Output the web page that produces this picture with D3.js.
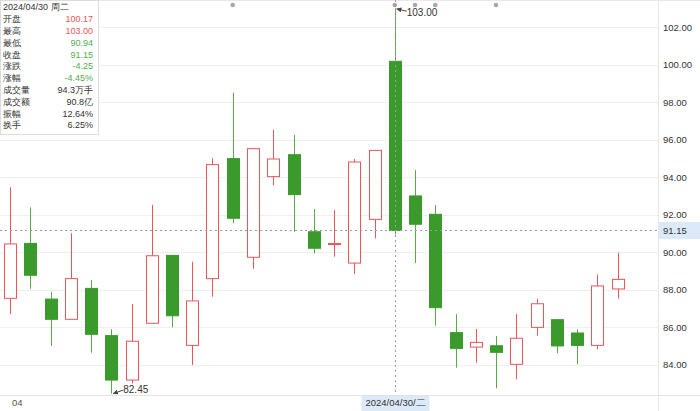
<!DOCTYPE html>
<html><head><meta charset="utf-8">
<script src="https://cdn.jsdelivr.net/npm/d3@7/dist/d3.min.js"></script>
<style>
html,body{margin:0;padding:0;background:#fff;}
svg{display:block;font-family:"Liberation Sans",Arial,sans-serif;}
</style></head>
<body><svg id="c" width="700" height="411"></svg>
<script>
const dates = ["2024/04/01","2024/04/02","2024/04/03","2024/04/08","2024/04/09","2024/04/10","2024/04/11","2024/04/12","2024/04/15","2024/04/16","2024/04/17","2024/04/18","2024/04/19","2024/04/22","2024/04/23","2024/04/24","2024/04/25","2024/04/26","2024/04/29","2024/04/30","2024/05/06","2024/05/07","2024/05/08","2024/05/09","2024/05/10","2024/05/13","2024/05/14","2024/05/15","2024/05/16","2024/05/17","2024/05/20"];
const openV  = [87.53,90.46,87.49,86.41,88.06,85.54,83.17,86.20,89.82,85.02,88.58,94.98,89.72,94.02,95.19,91.08,90.42,89.41,91.74,100.17,92.99,92.01,85.70,84.93,85.00,84.01,85.98,86.39,85.68,85.02,88.03];
const highV  = [93.45,92.38,87.88,91.00,88.51,85.88,87.23,92.51,89.82,89.48,95.00,98.50,95.51,96.51,96.24,92.29,92.24,94.96,95.42,103.00,94.37,92.51,86.69,85.89,85.52,86.69,87.51,86.39,85.88,88.79,89.96];
const lowV   = [86.69,88.04,84.99,86.41,84.63,82.45,83.00,86.20,85.98,83.97,87.62,91.53,89.11,93.56,91.08,89.93,89.75,88.83,90.73,90.94,89.41,86.07,83.83,84.10,82.73,83.21,85.54,84.60,84.01,84.81,87.53];
const closeV = [90.43,88.76,86.41,88.58,85.61,83.17,85.24,89.80,86.60,87.39,94.66,91.80,95.51,94.96,93.06,90.20,90.45,94.80,95.42,91.15,91.48,87.03,84.86,85.18,84.65,85.40,87.24,84.99,85.02,88.19,88.54];
const yTicks = [84,86,88,90,92,94,96,98,100,102];
const markerIdx = [11,19,20,21,24];
const tipLabels = ["开盘","最高","最低","收盘","涨跌","涨幅","成交量","成交额","振幅","换手"];
const tipValues = ["100.17","103.00","90.94","91.15","-4.25","-4.45%","94.3万手","90.8亿","12.64%","6.25%"];
const tipKinds  = ["up","up","down","down","down","down","n","n","n","n"];
const selIdx = 19;

const RED="#e8565b", GREEN="#3a9a2b", GREEN_W="#5aa84a", TXT="#333";
const svg = d3.select("#c");
const W=700,H=411, plotR=658, plotB=395;
const x = d3.scaleLinear().domain([0,30]).range([10,617.5]);
const y = d3.scaleLinear().domain([84,102]).range([364.5,27]);
const data = dates.map((d,i)=>({d,o:openV[i],h:highV[i],l:lowV[i],c:closeV[i]}));
const bw = 12;

// frame lines
svg.append("line").attr("x1",0).attr("x2",W).attr("y1",0.5).attr("y2",0.5).attr("stroke","#e8e8e8");
svg.append("line").attr("x1",0).attr("x2",W).attr("y1",plotB+0.5).attr("y2",plotB+0.5).attr("stroke","#e3e3e3");
svg.append("line").attr("x1",plotR+0.5).attr("x2",plotR+0.5).attr("y1",0).attr("y2",H).attr("stroke","#e6e6e6");

// grid
svg.append("g").selectAll("line").data(yTicks).join("line")
  .attr("x1",0).attr("x2",plotR).attr("y1",d=>Math.round(y(d))+0.5).attr("y2",d=>Math.round(y(d))+0.5)
  .attr("stroke","#efefef");

// y axis
const ax = svg.append("g").attr("transform",`translate(${plotR},0)`)
  .call(d3.axisRight(y).tickValues(yTicks).tickFormat(d3.format(".2f")).tickSize(0).tickPadding(5));
ax.select(".domain").remove();
ax.selectAll("text").attr("fill",TXT).style("font-size","9.5px").style("font-family","Liberation Sans, Arial");

// candles
const g = svg.append("g");
data.forEach((d,i)=>{
  const up = d.c>=d.o;
  const cx = Math.round(x(i))+0.5;
  const col = up?RED:GREEN;
  const top = y(Math.max(d.o,d.c)), bot = y(Math.min(d.o,d.c));
  g.append("line").attr("x1",cx).attr("x2",cx).attr("y1",y(d.h)).attr("y2",y(d.l))
   .attr("stroke",up?RED:GREEN_W).attr("stroke-width",1);
  g.append("rect").attr("x",cx-bw/2).attr("y",top).attr("width",bw).attr("height",Math.max(1,bot-top))
   .attr("fill",up?"#fff":GREEN).attr("stroke",col).attr("stroke-width",1);
});

// top markers
svg.append("g").selectAll("circle").data(markerIdx).join("circle")
  .attr("cx",i=>x(i)).attr("cy",5).attr("r",2.3).attr("fill","#a8a8a8");

// crosshair
const sx = Math.round(x(selIdx))+0.5, sy = Math.round(y(closeV[selIdx]))+0.5;
svg.append("line").attr("x1",sx).attr("x2",sx).attr("y1",0).attr("y2",plotB)
  .attr("stroke","#9a9a9a").attr("stroke-dasharray","2,3");
svg.append("line").attr("x1",0).attr("x2",plotR).attr("y1",sy).attr("y2",sy)
  .attr("stroke","#9a9a9a").attr("stroke-dasharray","2,3");
svg.append("rect").attr("x",plotR+1).attr("y",sy-8.5).attr("width",W-plotR-1).attr("height",17).attr("fill","#dce9f8");
svg.append("text").attr("x",663).attr("y",sy).attr("dy","0.35em").attr("fill",TXT).style("font-size","9.5px").text(closeV[selIdx].toFixed(2));
svg.append("rect").attr("x",sx-34).attr("y",plotB+1).attr("width",68).attr("height",H-plotB-1).attr("fill","#dce9f8");
const dp = dates[selIdx];
svg.append("text").attr("x",sx).attr("y",403).attr("dy","0.35em").attr("text-anchor","middle").attr("fill",TXT)
  .style("font-size","9.5px").text(dp+"/二");
svg.append("text").attr("x",12).attr("y",403).attr("dy","0.35em").attr("fill","#555").style("font-size","9.5px").text("04");

// max/min annotations
const defs = svg.append("defs");
defs.append("marker").attr("id","arr").attr("viewBox","0 0 6 6").attr("refX",5.5).attr("refY",3)
  .attr("markerWidth",5).attr("markerHeight",5).attr("orient","auto")
  .append("path").attr("d","M0,0 L6,3 L0,6 Z").attr("fill","#444");
const hiI = d3.maxIndex(highV), loI = d3.minIndex(lowV);
const hx = x(hiI), hy = y(highV[hiI]);
svg.append("line").attr("x1",hx+12).attr("y1",hy+3).attr("x2",hx+2).attr("y2",hy+0.5).attr("stroke","#444").attr("marker-end","url(#arr)");
svg.append("text").attr("x",hx+12).attr("y",hy+4).attr("dy","0.35em").attr("fill",TXT).style("font-size","10px").text(highV[hiI].toFixed(2));
const lx = x(loI), ly = y(lowV[loI]);
svg.append("line").attr("x1",lx+12).attr("y1",ly-3.5).attr("x2",lx+2).attr("y2",ly).attr("stroke","#444").attr("marker-end","url(#arr)");
svg.append("text").attr("x",lx+12).attr("y",ly-4).attr("dy","0.35em").attr("fill",TXT).style("font-size","10px").text(lowV[loI].toFixed(2));

// tooltip
const tip = svg.append("g");
tip.append("rect").attr("x",0.5).attr("y",0.5).attr("width",98).attr("height",134)
  .attr("fill","rgba(255,255,255,0.92)").attr("stroke","#dcdcdc");
tip.append("text").attr("x",3).attr("y",7).attr("dy","0.35em").attr("fill",TXT).style("font-size","9px").text(dp+" 周二");
tipLabels.forEach((t,k)=>{
  const yy = 19 + k*11.8;
  tip.append("text").attr("x",3).attr("y",yy).attr("dy","0.35em").attr("fill",TXT).style("font-size","9px").text(t);
  tip.append("text").attr("x",93).attr("y",yy).attr("dy","0.35em").attr("text-anchor","end")
    .attr("fill",tipKinds[k]==="up"?"#e5575b":tipKinds[k]==="down"?"#4fae4f":TXT).style("font-size","9px").text(tipValues[k]);
});
</script></body></html>
